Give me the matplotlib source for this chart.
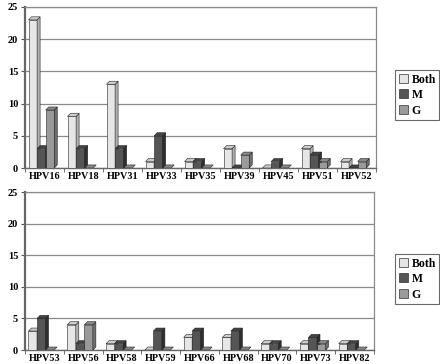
import matplotlib
matplotlib.use("Agg")
import matplotlib.pyplot as plt
from matplotlib.patches import Polygon, Patch

plt.rcParams['font.family'] = ['Liberation Serif', 'DejaVu Serif']
plt.rcParams['font.weight'] = 'bold'

# datos
tipos_arriba = ['HPV16', 'HPV18', 'HPV31', 'HPV33', 'HPV35', 'HPV39', 'HPV45', 'HPV51', 'HPV52']
both_arriba = [23, 8, 13, 1, 1, 3, 0, 3, 1]
m_arriba = [3, 3, 3, 5, 1, 0, 1, 2, 0]
g_arriba = [9, 0, 0, 0, 0, 2, 0, 1, 1]

tipos_abajo = ['HPV53', 'HPV56', 'HPV58', 'HPV59', 'HPV66', 'HPV68', 'HPV70', 'HPV73', 'HPV82']
both_abajo = [3, 4, 1, 0, 2, 2, 1, 1, 1]
m_abajo = [5, 1, 1, 3, 3, 3, 1, 2, 1]
g_abajo = [0, 4, 0, 0, 0, 0, 0, 1, 0]

series = ['Both', 'M', 'G']
colores = ['#e6e6e6', '#555555', '#9a9a9a']
lados = ['#b0b0b0', '#2e2e2e', '#6e6e6e']
techos = ['#cccccc', '#444444', '#888888']

fig = plt.figure(figsize=(4.4, 3.64), dpi=100)


def barras_3d(ax, tipos, valores, ancho_px):
    n = len(tipos)
    ax.set_xlim(-0.5, n - 0.5)
    ax.set_ylim(0, 25)
    ancho = 0.22
    dx = 3.0 * n / ancho_px
    dy = 3.0 * 25 / 158
    for j, vals in enumerate(valores):
        for i, v in enumerate(vals):
            x0 = i - 1.5 * ancho + j * ancho - 0.08
            x1 = x0 + ancho
            if v > 0:
                ax.bar(x0, v, width=ancho, align='edge', color=colores[j],
                       edgecolor='#222222', linewidth=0.4, zorder=3 + i * 3 + j)
                ax.add_patch(Polygon([(x1, 0), (x1 + dx, dy), (x1 + dx, v + dy), (x1, v)],
                                     closed=True, facecolor=lados[j], edgecolor='#222222',
                                     linewidth=0.4, zorder=3 + i * 3 + j))
            ax.add_patch(Polygon([(x0, v), (x0 + dx, v + dy), (x1 + dx, v + dy), (x1, v)],
                                 closed=True, facecolor=techos[j], edgecolor='#222222',
                                 linewidth=0.4, zorder=3 + i * 3 + j))
    ax.set_yticks(range(0, 26, 5))
    ax.set_xticks(range(n))
    ax.set_xticklabels(tipos, fontsize=7.3, fontweight='bold')
    ax.set_xticks([i + 0.5 for i in range(-1, n)], minor=True)
    ax.tick_params(axis='x', which='major', length=0, pad=3)
    ax.tick_params(axis='x', which='minor', length=3, color='#555555')
    ax.tick_params(axis='y', labelsize=7.5, length=3, pad=2, color='#555555')
    for t in ax.get_yticklabels():
        t.set_fontweight('bold')
    ax.yaxis.grid(True, color='#8a8a8a', linewidth=0.9, zorder=0)
    ax.set_axisbelow(True)
    for s in ['top', 'right']:
        ax.spines[s].set_color('#8a8a8a')
        ax.spines[s].set_linewidth(0.9)
    ax.spines['left'].set_color('#666666')
    ax.spines['left'].set_linewidth(1.6)
    ax.spines['bottom'].set_color('#666666')
    ax.spines['bottom'].set_linewidth(1.0)


# Panel superior
ax1 = fig.add_axes([25 / 440, 1 - 168 / 364, 351 / 440, 161 / 364])
barras_3d(ax1, tipos_arriba, [both_arriba, m_arriba, g_arriba], 351)

# Panel inferior
ax2 = fig.add_axes([25 / 440, 1 - 350 / 364, 349 / 440, 158 / 364])
barras_3d(ax2, tipos_abajo, [both_abajo, m_abajo, g_abajo], 349)

# Leyendas
handles = [Patch(facecolor=colores[k], edgecolor='#333333', linewidth=0.5, label=series[k])
           for k in range(3)]
for y_top in [70, 254]:
    leg = fig.legend(handles=handles, loc='upper left', bbox_to_anchor=(395 / 440, 1 - y_top / 364),
                     fontsize=8.5, frameon=True, fancybox=False, handlelength=0.8, handleheight=0.8,
                     handletextpad=0.3, borderpad=0.3, labelspacing=0.3, borderaxespad=0)
    leg.get_frame().set_edgecolor('#444444')
    leg.get_frame().set_linewidth(0.8)
    for t in leg.get_texts():
        t.set_fontweight('bold')

fig.savefig('out.png', dpi=100)
